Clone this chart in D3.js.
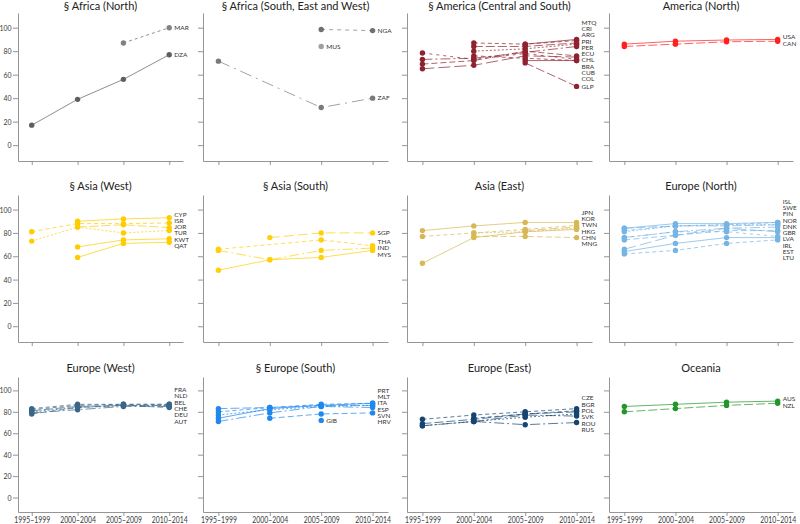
<!DOCTYPE html>
<html><head><meta charset="utf-8">
<script src="https://cdn.jsdelivr.net/npm/d3@7"></script>
<style>
body{margin:0;background:#fff}
svg{display:block}
text{font-family:Lato,"Open Sans",sans-serif}
</style>
</head><body>
<svg id="c" width="800" height="524"></svg>
<script>
// ---------- data ----------
const periods = ["1995–1999","2000–2004","2005–2009","2010–2014"];
const yTicks = [0,20,40,60,80,100];
const yDomain = [-13.5,112.5];

const panelTitles = [
  "§ Africa (North)","§ Africa (South, East and West)","§ America (Central and South)","America (North)",
  "§ Asia (West)","§ Asia (South)","Asia (East)","Europe (North)",
  "Europe (West)","§ Europe (South)","Europe (East)","Oceania"
];

const africaNorth = [
  {code:"MAR", values:[null,null,87,100]},
  {code:"DZA", values:[17,39,56,77]}
];
const africaSEW = [
  {code:"NGA", values:[null,null,98.5,97.5]},
  {code:"MUS", values:[null,null,84,null]},
  {code:"ZAF", values:[71.5,null,32,40]}
];
const americaCS = [
  {code:"MTQ", values:[null,null,86,90]},
  {code:"CRI", values:[null,87,86,89]},
  {code:"ARG", values:[null,84,84,87]},
  {code:"PRI", values:[null,80,82,86]},
  {code:"PER", values:[73,74,79,84]},
  {code:"ECU", values:[69,72,80,76]},
  {code:"CHL", values:[65,68,76,75]},
  {code:"BRA", values:[78.5,73,78,73]},
  {code:"CUB", values:[null,null,72,72]},
  {code:"COL", values:[null,76,74,72]},
  {code:"GLP", values:[null,null,70,50]}
];
const americaN = [
  {code:"USA", values:[86,88.5,89.5,90]},
  {code:"CAN", values:[84,86,88,88.5]}
];
const asiaW = [
  {code:"CYP", values:[null,90,92,93]},
  {code:"ISR", values:[81,88,88,88.5]},
  {code:"JOR", values:[null,85,87,84.5]},
  {code:"TUR", values:[73,85,80,82]},
  {code:"KWT", values:[null,68,74,75]},
  {code:"QAT", values:[null,59,71,72]}
];
const asiaS = [
  {code:"SGP", values:[null,76,80,80]},
  {code:"THA", values:[66,null,74,69]},
  {code:"IND", values:[65,57,65,67]},
  {code:"MYS", values:[48,57,59,65]}
];
const asiaE = [
  {code:"JPN", values:[82,86,89,89]},
  {code:"KOR", values:[77,80,83,86.5]},
  {code:"TWN", values:[null,null,82,85]},
  {code:"HKG", values:[null,80,81,84]},
  {code:"CHN", values:[54,76,81,83]},
  {code:"MNG", values:[null,77,77,76]}
];
const europeN = [
  {code:"ISL", values:[84,88,88,89]},
  {code:"SWE", values:[82,86,87,89]},
  {code:"FIN", values:[84,86,86,87]},
  {code:"NOR", values:[81,86,87,87]},
  {code:"DNK", values:[76,81,84,85]},
  {code:"GBR", values:[74,78,82,82]},
  {code:"LVA", values:[66,78,84,81]},
  {code:"IRL", values:[76,81,81,77]},
  {code:"EST", values:[64,71,76,76]},
  {code:"LTU", values:[62,65,71,74]}
];
const europeW = [
  {code:"FRA", values:[83,87,87,87]},
  {code:"NLD", values:[82,86,87,87]},
  {code:"BEL", values:[81,85,86,86]},
  {code:"CHE", values:[80,84,86,86]},
  {code:"DEU", values:[79,82,85,85]},
  {code:"AUT", values:[78,84,86,84]}
];
const europeS = [
  {code:"PRT", values:[74,83,86,88]},
  {code:"MLT", values:[80,84,87,88]},
  {code:"ITA", values:[83,84,86,86]},
  {code:"ESP", values:[77,82,85,86]},
  {code:"SVN", values:[71,79,85,84]},
  {code:"HRV", values:[null,74,78,79]},
  {code:"GIB", values:[null,null,72,null]}
];
const europeE = [
  {code:"CZE", values:[73,77,80,83]},
  {code:"BGR", values:[null,74,78,81]},
  {code:"POL", values:[69,73,78,80]},
  {code:"SVK", values:[67,71,75,78]},
  {code:"ROU", values:[null,71,77,76]},
  {code:"RUS", values:[67,71,68,70]}
];
const oceania = [
  {code:"AUS", values:[85,87,89,90]},
  {code:"NZL", values:[80,83,86,88]}
];
const panelSeries = [africaNorth,africaSEW,americaCS,americaN,asiaW,asiaS,asiaE,europeN,europeW,europeS,europeE,oceania];

// ---------- styles ----------
const panelColors = ["#5f5f5f","#7a7a7a","#8e2230","#ff2020","#ffcc00","#ffcf0a","#d6b955","#76b4e4","#3b6688","#1f88ee","#164572","#22962a"];
const pointColorOverride = {MAR:"#828282", MUS:"#a0a0a0", NGA:"#707070"};
const dashCycle = [null,"4,3","9,3","2,2","10,3,2,3","6,3","12,4","3,4"];
const dashByCode = {DZA:null, MAR:"3,3", NGA:"4,4", ZAF:"12,5,2,5", USA:null, CAN:"9,3", AUS:null, NZL:"9,3",
  CYP:null, KWT:null, QAT:null, MYS:null, CHN:null, SGP:"10,4", THA:"4,3", IND:"10,3,2,3", FRA:"4,3", CZE:"4,3", RUS:"10,3,2,3"};

// ---------- layout ----------
const colLeft = [18,203,407,609], colRight = [183,388,592,793];
const rowTop = [13,195,377], rowBottom = [161,342,512];
const titleBase = [9.5,190,372];
const axisColor = "#8a8a8a";

const svg = d3.select("#c");

function condense(sel, k){
  sel.each(function(){
    const w = this.getComputedTextLength();
    d3.select(this).attr("textLength", w*k).attr("lengthAdjust","spacingAndGlyphs");
  });
}

panelSeries.forEach((series,pi)=>{
  const r = Math.floor(pi/4), c = pi%4;
  const x = d3.scalePoint().domain(periods).range([colLeft[c],colRight[c]]).padding(0.3);
  const y = d3.scaleLinear().domain(yDomain).range([rowBottom[r],rowTop[r]]);
  const g = svg.append("g");
  const color = panelColors[pi];

  // axes
  const ya = d3.axisLeft(y).tickValues(yTicks).tickSize(5).tickSizeOuter(0).tickPadding(1.5);
  const yg = g.append("g").attr("transform",`translate(${colLeft[c]},0)`).call(ya);
  const xa = d3.axisBottom(x).tickSize(4).tickSizeOuter(0).tickPadding(1);
  const xg = g.append("g").attr("transform",`translate(0,${rowBottom[r]})`).call(xa);
  [yg,xg].forEach(a=>{
    a.select(".domain").attr("stroke",axisColor).attr("stroke-width",0.9);
    a.selectAll(".tick line").attr("stroke",axisColor).attr("stroke-width",0.9);
    a.selectAll(".tick text").attr("fill","#3a3a3a").style("font-family","Lato,'Open Sans',sans-serif");
  });
  yg.selectAll(".tick text").style("font-size","8px");
  xg.selectAll(".tick text").style("font-size","8.6px");
  if (c!==0) yg.selectAll(".tick text").remove(); else condense(yg.selectAll(".tick text"),0.86);
  if (r!==2) xg.selectAll(".tick text").remove(); else condense(xg.selectAll(".tick text"),0.8);

  // title
  g.append("text").attr("x",(colLeft[c]+colRight[c])/2).attr("y",titleBase[r])
    .attr("text-anchor","middle").attr("fill","#222").style("font-size","11px").text(panelTitles[pi]);

  // lines
  const line = d3.line().x(d=>x(d.p)).y(d=>y(d.v));
  series.forEach((s,si)=>{
    const pts = s.values.map((v,i)=>({p:periods[i],v})).filter(d=>d.v!=null);
    const dash = (s.code in dashByCode) ? dashByCode[s.code] : dashCycle[si%dashCycle.length];
    g.append("path").datum(pts).attr("d",line).attr("fill","none")
      .attr("stroke",color).attr("stroke-opacity",0.7).attr("stroke-width",1)
      .attr("stroke-dasharray",dash);
  });
  // points
  series.forEach(s=>{
    const pc = pointColorOverride[s.code] || color;
    s.values.forEach((v,i)=>{
      if (v==null) return;
      g.append("circle").attr("cx",x(periods[i])).attr("cy",y(v)).attr("r",2.7).attr("fill",pc);
    });
  });

  // labels at last defined point, spread per x position
  const labs = series.map((s,si)=>{
    let li = -1; s.values.forEach((v,i)=>{ if(v!=null) li=i; });
    return {code:s.code, xi:li, t:y(s.values[li]), order:si};
  });
  const gap = 6.3;
  d3.groups(labs,d=>d.xi).forEach(([xi,items])=>{
    items.sort((a,b)=>a.t-b.t || a.order-b.order);
    const clusters = [];
    items.forEach(it=>{
      clusters.push({items:[it], sum:it.t});
      while (clusters.length>1){
        const b = clusters[clusters.length-1], a = clusters[clusters.length-2];
        const aTop = a.sum/a.items.length - (a.items.length-1)*gap/2;
        const bTop = b.sum/b.items.length - (b.items.length-1)*gap/2;
        if (aTop + a.items.length*gap > bTop){
          a.items = a.items.concat(b.items); a.sum += b.sum; clusters.pop();
        } else break;
      }
    });
    clusters.forEach(cl=>{
      const top = cl.sum/cl.items.length - (cl.items.length-1)*gap/2;
      cl.items.forEach((it,k)=>{
        g.append("text").attr("x",x(periods[xi])+5).attr("y",top+k*gap)
          .attr("dy","0.35em").attr("fill","#333").style("font-size","6.5px").text(it.code);
      });
    });
  });
});
</script>
</body></html>
